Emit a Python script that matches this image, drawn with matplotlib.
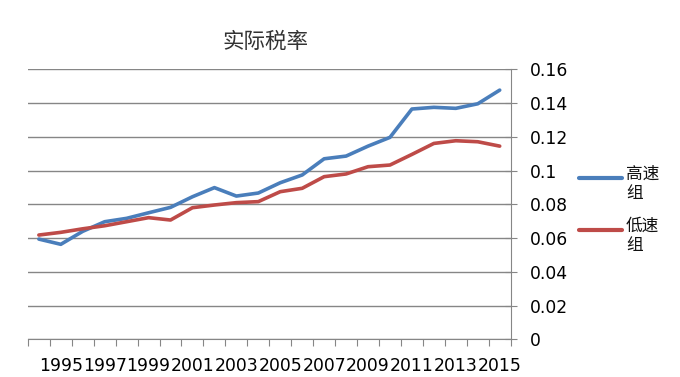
import matplotlib
matplotlib.use("Agg")
import matplotlib.pyplot as plt
from matplotlib.lines import Line2D
import numpy as np

plt.rcParams['font.family'] = ['DejaVu Sans', 'Noto Sans CJK SC']

years = list(range(1994, 2016))
high = [0.0594, 0.0563, 0.0640, 0.0697, 0.0717, 0.0750, 0.0782, 0.0845, 0.0899, 0.0849, 0.0867,
        0.0928, 0.0974, 0.1070, 0.1086, 0.1145, 0.1197, 0.1365, 0.1375, 0.1369, 0.1396, 0.1477]
low = [0.0618, 0.0634, 0.0655, 0.0673, 0.0697, 0.0721, 0.0707, 0.0780, 0.0796, 0.0810, 0.0816,
       0.0875, 0.0895, 0.0964, 0.0980, 0.1023, 0.1033, 0.1096, 0.1161, 0.1177, 0.1171, 0.1145]
labels = ['高速\n组', '低速\n组']
colors = ['#4A7EBB', '#BE4B48']
yticks = [0, 0.02, 0.04, 0.06, 0.08, 0.1, 0.12, 0.14, 0.16]
ytick_labels = ['0', '0.02', '0.04', '0.06', '0.08', '0.1', '0.12', '0.14', '0.16']

fig = plt.figure(figsize=(6.8, 3.77), dpi=100)
ax = fig.add_axes([0.041, 0.100, 0.710, 0.716])

x = np.arange(len(years))
ax.plot(x, high, color=colors[0], lw=2.6, solid_capstyle='round')
ax.plot(x, low, color=colors[1], lw=2.6, solid_capstyle='round')

grid_col = '#868686'
ax.set_ylim(0, 0.16)
ax.set_xlim(-0.5, len(years) - 0.5)
ax.yaxis.tick_right()
ax.set_yticks(yticks)
ax.set_yticklabels(ytick_labels)
ax.grid(axis='y', color=grid_col, lw=1)
ax.set_axisbelow(True)

# tick marks between categories, labels on odd years
ax.set_xticks(np.arange(-0.5, len(years), 1))
ax.set_xticklabels([])
lab_pos = [i for i, yr in enumerate(years) if yr % 2 == 1]
ax.set_xticks(lab_pos, minor=True)
ax.set_xticklabels([str(years[i]) for i in lab_pos], minor=True)
ax.tick_params(axis='x', which='major', length=5, color=grid_col, direction='out')
ax.tick_params(axis='x', which='minor', length=0, pad=12.5, labelsize=12.4)
ax.tick_params(axis='y', which='major', length=8, direction='inout', color=grid_col,
               pad=10, labelsize=12.3, right=True, left=False)

for s in ['top', 'left']:
    ax.spines[s].set_visible(False)
for s in ['bottom', 'right']:
    ax.spines[s].set_color(grid_col)

fig.text(0.39, 0.888, '实际税率', ha='center', va='center', fontsize=15.5,
         family=['Noto Sans CJK SC'], color='#333333')

# legend: handle level with the first text line
leg_y = [1 - 178 / 377, 1 - 230 / 377]
for lab, col, yy in zip(labels, colors, leg_y):
    fig.add_artist(Line2D([579 / 680, 622 / 680], [yy, yy], color=col, lw=3,
                          solid_capstyle='round', transform=fig.transFigure))
    fig.text(626 / 680, yy + 0.032, lab, ha='left', va='top', fontsize=12,
             family=['Noto Sans CJK SC'], linespacing=1.15, color='#111111')

fig.savefig('out.png', dpi=100)
